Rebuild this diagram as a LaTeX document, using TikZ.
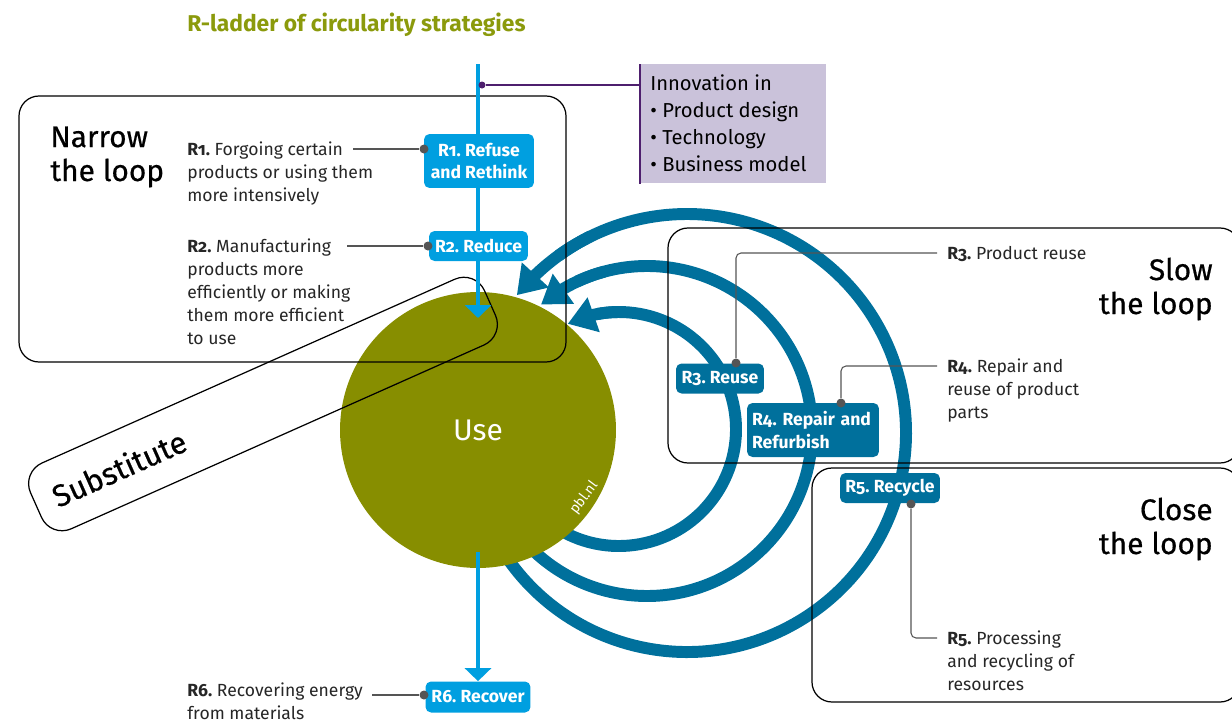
\documentclass[tikz,border=0pt]{standalone}
\usepackage{fontspec}
\setmainfont{Fira Sans}[Numbers=OldStyle]
\newfontfamily\headfont{Fira Sans}[FakeBold=0.5]
\usetikzlibrary{arrows.meta}
\usetikzlibrary{bending}

\definecolor{usegreen}{HTML}{878E00}
\definecolor{titlegreen}{HTML}{8B9A0C}
\definecolor{ladderblue}{HTML}{009FE0}
\definecolor{loopblue}{HTML}{00709C}
\definecolor{innovlilac}{HTML}{CAC2DA}
\definecolor{innovpurple}{HTML}{4E1F6E}
\definecolor{pingray}{HTML}{555555}

\tikzset{
  loopbox/.style={draw, line width=0.7pt, rounded corners=0.4cm},
  rbox/.style={rounded corners=0.11cm, text=white, inner sep=0pt, align=center,
    font=\bfseries\fontsize{10}{13}\selectfont},
  narrowbox/.style={rbox, fill=ladderblue},
  slowbox/.style={rbox, fill=loopblue},
  pin/.style={circle, fill=pingray, inner sep=0pt, minimum size=0.18cm},
  pinline/.style={draw=pingray, line width=0.6pt},
  note/.style={anchor=base west, inner sep=0pt, align=left, text=black!85,
    font=\fontsize{10}{13}\selectfont},
  heading/.style={inner sep=0pt, font=\headfont\fontsize{17}{19.3}\selectfont},
  ladder/.style={draw=ladderblue, line width=2.3pt, -{Triangle[width=0.52cm,length=0.26cm]}},
  looparc/.style={draw=loopblue, line width=6.8pt},
}

\begin{document}
\frenchspacing
\begin{tikzpicture}[x=0.02cm, y=-0.02cm]
  \useasboundingbox (0,0) rectangle (1232,724);

  % loops back to use, shafts first
  \foreach \cx/\cy/\rad/\sa/\ea in {619/429/117/116/-116, 647/431/165/131/-130, 687/433/219/143/-141}
    \draw[looparc] (\cx,\cy) ++({\sa+6}:\rad) arc[start angle=\sa+6, end angle=\ea+15, radius=\rad];

  \node[circle, fill=usegreen, minimum size=5.52cm, inner sep=0pt, text=white,
    font=\fontsize{17}{20}\selectfont] (use) at (478,430) {Use};
  \node[text=white, inner sep=0pt, rotate=53, font=\fontsize{8}{9}\selectfont] (pbl) at (584,498) {pbl.nl};

  \foreach \cx/\cy/\rad/\sa/\ea in {619/429/117/116/-116, 647/431/165/131/-130, 687/433/219/143/-141}
    \draw[looparc, -{Triangle[width=0.7cm,length=0.55cm]}] (\cx,\cy) ++({\ea+25}:\rad) arc[start angle=\ea+25, end angle=\ea, radius=\rad];

  \node[draw, line width=0.7pt, rounded corners=0.45cm, rotate=24, minimum width=9.94cm,
    minimum height=1.44cm, text width=9.18cm, inner xsep=0.38cm, align=left,
    font=\headfont\fontsize{17.5}{20}\selectfont] (substitute) at (263,404) {Substitute};

  % the three loop areas
  \draw[loopbox] (19,96) rectangle (566,362);
  \draw[loopbox] (668,228) rectangle (1240,463);
  \draw[loopbox] (812,468) rectangle (1240,702);

  % R-ladder
  \coordinate (ladtop) at (478,64);
  \coordinate (ladtip) at (478,318);
  \coordinate (ladlow) at (478,552);
  \draw[ladder] (ladtop) -- (ladtip);

  \node[narrowbox, minimum width=2.2cm, minimum height=1.08cm] (refuse) at (479,161) {R1. Refuse\\and Rethink};
  \node[narrowbox, minimum width=1.98cm, minimum height=0.6cm] (reduce) at (478.5,246) {R2. Reduce};
  \node[narrowbox, minimum width=2.1cm, minimum height=0.62cm] (recover) at (478,697) {R6. Recover};
  \draw[ladder] (ladlow) -- (recover.north);

  \node[slowbox, minimum width=1.76cm, minimum height=0.6cm] (reuse) at (720,378.5) {R3. Reuse};
  \node[slowbox, minimum width=2.64cm, minimum height=1.08cm, text width=2.44cm, align=left] (repair) at (813,430) {R4. Repair and\\Refurbish};
  \node[slowbox, minimum width=2.0cm, minimum height=0.6cm] (recycle) at (890,488) {R5. Recycle};

  % innovation
  \node[fill=innovlilac, anchor=north west, inner sep=0pt, minimum width=3.72cm, minimum height=2.38cm] (innov) at (640,64) {};
  \draw[innovpurple, line width=0.6pt] (innov.north west) -- (innov.south west);
  \node[circle, fill=innovpurple, inner sep=0pt, minimum size=0.14cm] (innovpin) at (482,85) {};
  \draw[innovpurple, line width=0.6pt] (innovpin) -- (innov.west |- innovpin);
  \node[anchor=base west, inner sep=0pt, align=left, font=\fontsize{11.5}{15.3}\selectfont] (innovtext) at (650,171)
    {Innovation in\\\textbullet\ Product design\\\textbullet\ Technology\\\textbullet\ Business model};

  % pins and notes
  \node[pin] (r1pin) at (424,149) {};
  \node[pin] (r2pin) at (428,246) {};
  \node[pin] (r6pin) at (424,695) {};
  \node[pin] (r3pin) at (736,363) {};
  \node[pin] (r4pin) at (841,403) {};
  \node[pin] (r5pin) at (911,504) {};
  \coordinate (r1free) at (353,149);
  \coordinate (r2free) at (347,246);
  \coordinate (r6free) at (372,695);
  \coordinate (r3free) at (937,253);
  \coordinate (r4free) at (937,366);
  \coordinate (r5free) at (937,638);
  \draw[pinline] (r1free) -- (r1pin);
  \draw[pinline] (r2free) -- (r2pin);
  \draw[pinline] (r6free) -- (r6pin);
  \draw[pinline, rounded corners=0.1cm] (r3pin) |- (r3free);
  \draw[pinline, rounded corners=0.1cm] (r4pin) |- (r4free);
  \draw[pinline, rounded corners=0.1cm] (r5pin) |- (r5free);

  \node[note] (r1note) at (187,201) {\textbf{R1.} Forgoing certain\\products or using them\\more intensively};
  \node[note] (r2note) at (187,344) {\textbf{R2.} Manufacturing\\products more\\efficiently or making\\them more efficient\\to use};
  \node[note] (r6note) at (187,719) {\textbf{R6.} Recovering energy\\from materials};
  \node[note] (r3note) at (947,259) {\textbf{R3.} Product reuse};
  \node[note] (r4note) at (947,418) {\textbf{R4.} Repair and\\reuse of product\\parts};
  \node[note] (r5note) at (947,690) {\textbf{R5.} Processing\\and recycling of\\resources};

  \node[heading, anchor=base west, align=left] (narrow) at (50,181) {Narrow\\the loop};
  \node[heading, anchor=base east, align=right] (slow) at (1213,314) {Slow\\the loop};
  \node[heading, anchor=base east, align=right] (close) at (1213,554) {Close\\the loop};

  \node[anchor=base west, inner sep=0pt, text=titlegreen, font=\bfseries\fontsize{13}{15}\selectfont] (title) at (187,31)
    {R-ladder of circularity strategies};
\end{tikzpicture}
\end{document}
